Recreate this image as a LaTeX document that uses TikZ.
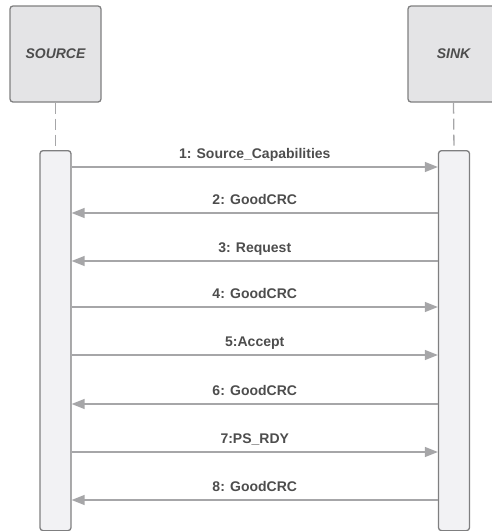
\documentclass[tikz,border=0pt]{standalone}
\usepackage{fontspec}
\setmainfont{Liberation Sans}
\usetikzlibrary{arrows.meta}
\definecolor{txt}{HTML}{4D4D4D}
\definecolor{boxline}{HTML}{7F7F80}
\definecolor{headfill}{HTML}{E4E4E6}
\definecolor{barfill}{HTML}{F2F2F4}
\definecolor{msgline}{HTML}{A6A6A8}
\tikzset{
  header/.style={draw=boxline, line width=1.3pt, fill=headfill, rounded corners=3pt,
    minimum width=91pt, minimum height=96pt, inner sep=0pt,
    font=\fontsize{14}{16}\selectfont\bfseries\itshape, text=txt},
  bar/.style={draw=boxline, line width=1.3pt, fill=barfill, rounded corners=3pt,
    minimum width=31pt, minimum height=380pt, inner sep=0pt},
  life/.style={draw=msgline, line width=1.3pt, dash pattern=on 11pt off 5pt},
  msg/.style={draw=msgline, line width=1.4pt, -{Triangle[length=13pt,width=10pt]}},
  lbl/.style={font=\fontsize{14}{16}\selectfont\bfseries, text=txt, inner sep=0pt,
    anchor=base, yshift=9pt}
}
\begin{document}
\begin{tikzpicture}[x=1pt,y=-1pt]
  \useasboundingbox (0,0) rectangle (492,531);
  \clip (0,0) rectangle (492,531);
  % participants
  \node[header] (src) at (55.5,54) {SOURCE};
  \node[header] (snk) at (453.5,54) {SINK};
  % activation bars
  \node[bar, anchor=north] (srcbar) at (55.5,150) {};
  \node[bar, anchor=north] (snkbar) at (454,150) {};
  % lifelines
  \draw[life] (src.south) -- (srcbar.north);
  \draw[life] (snk.south) -- (snkbar.north);
  % message rows
  \foreach \i/\y in {1/167,2/213,3/261,4/307,5/355,6/404,7/452,8/500}
    \coordinate (m\i) at (0,\y);
  \draw[msg] (srcbar.east |- m1) -- node[lbl] {1: Source\_Capabilities} (snkbar.west |- m1);
  \draw[msg] (snkbar.west |- m2) -- node[lbl] {2: GoodCRC} (srcbar.east |- m2);
  \draw[msg] (snkbar.west |- m3) -- node[lbl] {3: Request} (srcbar.east |- m3);
  \draw[msg] (srcbar.east |- m4) -- node[lbl] {4: GoodCRC} (snkbar.west |- m4);
  \draw[msg] (srcbar.east |- m5) -- node[lbl] {5:Accept} (snkbar.west |- m5);
  \draw[msg] (snkbar.west |- m6) -- node[lbl] {6: GoodCRC} (srcbar.east |- m6);
  \draw[msg] (srcbar.east |- m7) -- node[lbl] {7:PS\_RDY} (snkbar.west |- m7);
  \draw[msg] (snkbar.west |- m8) -- node[lbl] {8: GoodCRC} (srcbar.east |- m8);
\end{tikzpicture}
\end{document}
